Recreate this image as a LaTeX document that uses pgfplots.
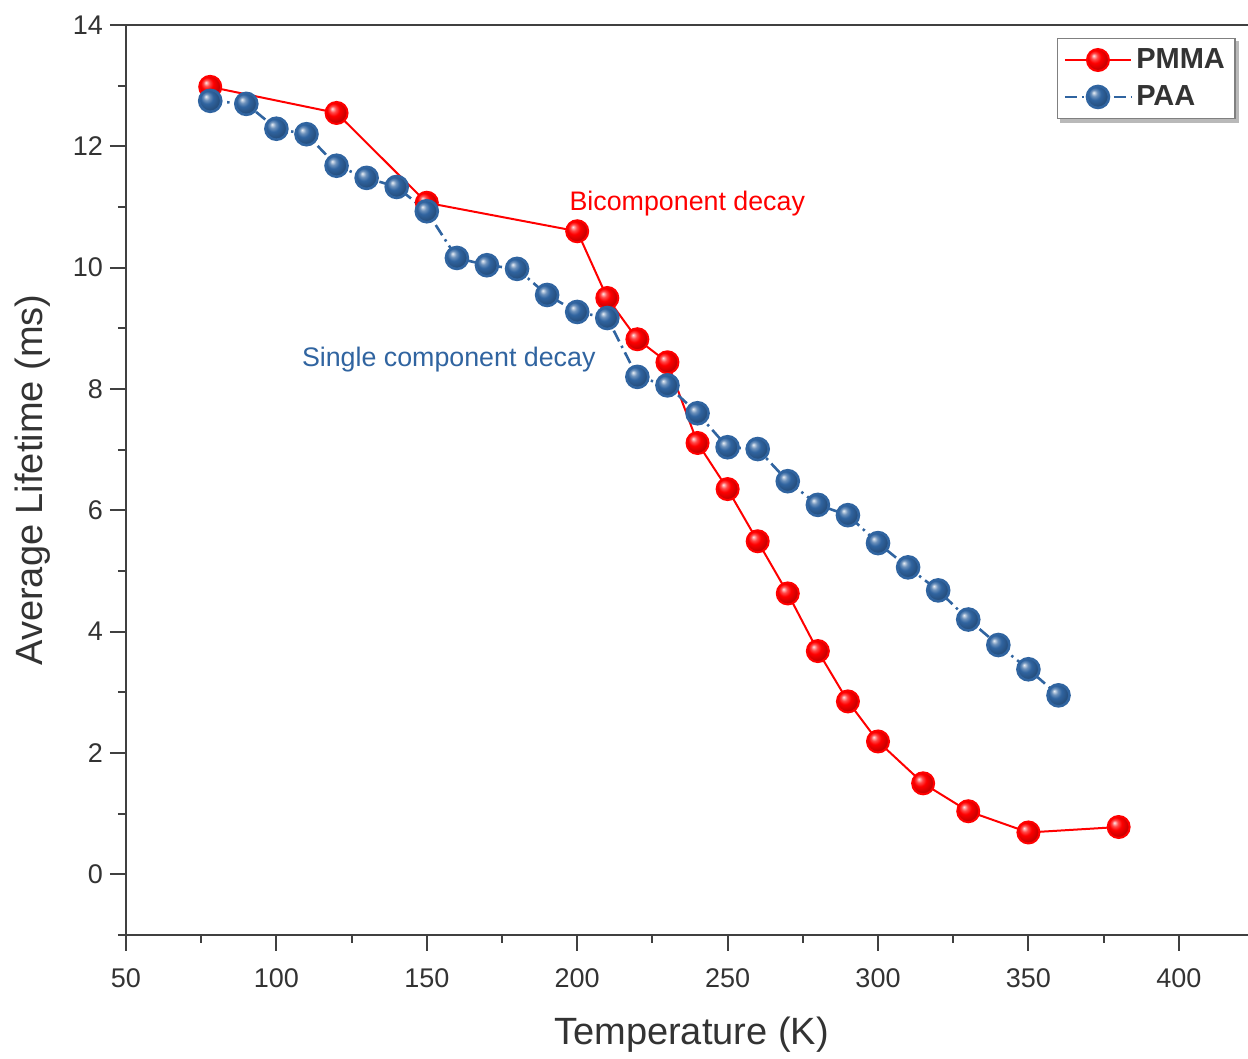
\documentclass[border=0pt]{standalone}
\usepackage{fontspec}
\setmainfont{Liberation Sans}
\usepackage{pgfplots}
\pgfplotsset{compat=1.18}
\definecolor{paablue}{HTML}{3064A0}
\definecolor{axcol}{HTML}{404040}
\definecolor{tickcol}{HTML}{333333}
\makeatletter
\pgfdeclareradialshading[tikz@ball]{ball}{\pgfqpoint{-10bp}{10bp}}{%
  color(0bp)=(tikz@ball!10!white); color(7bp)=(tikz@ball!70!white);
  color(14bp)=(tikz@ball); color(25bp)=(tikz@ball!80!black); color(50bp)=(tikz@ball!60!black)}
\makeatother
\pgfdeclarelayer{background}
\pgfsetlayers{background,main}
\begin{document}
\begin{tikzpicture}
\begin{axis}[
  scale only axis,
  width=561pt, height=455pt,
  xmin=50, xmax=423, ymin=-1, ymax=14,
  axis x line*=bottom, axis y line*=left,
  axis line style={-, color=axcol, line width=1pt},
  xtick={50,100,...,400}, minor xtick={75,125,...,425},
  ytick={0,2,...,14}, minor ytick={-1,1,...,13},
  tick align=outside,
  major tick length=8pt, minor tick length=4pt,
  every tick/.style={color=axcol, line width=1pt},
  tick label style={font=\fontsize{13.5}{16}\selectfont, color=tickcol},
  xticklabel style={yshift=-5.5pt},
  /pgf/number format/assume math mode=true,
  every axis y label/.style={at={(axis description cs:-0.0829,0.5)},rotate=90,anchor=center},
  every axis x label/.style={at={(axis description cs:0.504,-0.11)},anchor=center},
  xlabel={Temperature (K)}, ylabel={Average Lifetime (ms)},
  label style={font=\fontsize{19}{22}\selectfont, color=tickcol},
  legend style={name=leg, at={(0.989,0.986)}, anchor=north east, draw=gray, line width=0.8pt,
    fill=white,
    font=\fontsize{14.5}{17}\selectfont\bfseries, text=tickcol, row sep=3pt, inner sep=3pt},
  legend cell align=left,
  legend image code/.code={\draw[mark repeat=2,mark phase=2] plot coordinates {(0pt,0pt) (16.5pt,0pt) (33pt,0pt)};},
  clip=false,
]
\addplot[color=red, line width=1pt, mark=ball, mark size=5.5pt, mark options={ball color=red, solid}]
coordinates {
(78,12.98) (120,12.55) (150,11.07) (200,10.60) (210,9.50) (220,8.82) (230,8.44)
(240,7.11) (250,6.35) (260,5.49) (270,4.63) (280,3.68) (290,2.85) (300,2.19)
(315,1.50) (330,1.04) (350,0.69) (380,0.78)
};
\addlegendentry{PMMA}
\addplot[color=paablue, line width=1.3pt, dash pattern=on 6pt off 2.5pt on 1.2pt off 2.5pt,
  mark=ball, mark size=5.5pt, mark options={ball color=paablue, solid}]
coordinates {
(78,12.75) (90,12.70) (100,12.29) (110,12.20) (120,11.68) (130,11.48) (140,11.33)
(150,10.93) (160,10.16) (170,10.04) (180,9.98) (190,9.55) (200,9.27) (210,9.17)
(220,8.20) (230,8.06) (240,7.60) (250,7.04) (260,7.01) (270,6.48) (280,6.09)
(290,5.92) (300,5.46) (310,5.06) (320,4.68) (330,4.20) (340,3.78) (350,3.38)
(360,2.95)
};
\addlegendentry{PAA}
\draw[axcol, line width=1pt] (rel axis cs:0,1) -- (rel axis cs:1,1);
\node[red, font=\fontsize{13.4}{16}\selectfont] at (axis cs:236.6,11.06) {Bicomponent decay};
\node[color=paablue, font=\fontsize{13.4}{16}\selectfont] at (axis cs:157.3,8.48) {Single component decay};
\coordinate (bl) at (rel axis cs:0,0);
\coordinate (tr) at (rel axis cs:1,1);
\end{axis}
\begin{pgfonlayer}{background}
\fill[gray!55] ([xshift=1.8pt,yshift=-1.8pt]leg.south west) rectangle ([xshift=1.8pt,yshift=-1.8pt]leg.north east);
\end{pgfonlayer}
\pgfresetboundingbox
\path (bl) ++(-63pt,-62pt) coordinate (BL);
\path (tr) ++(0pt,12.5pt) coordinate (TR);
\path (BL) rectangle (TR);
\end{tikzpicture}
\end{document}
